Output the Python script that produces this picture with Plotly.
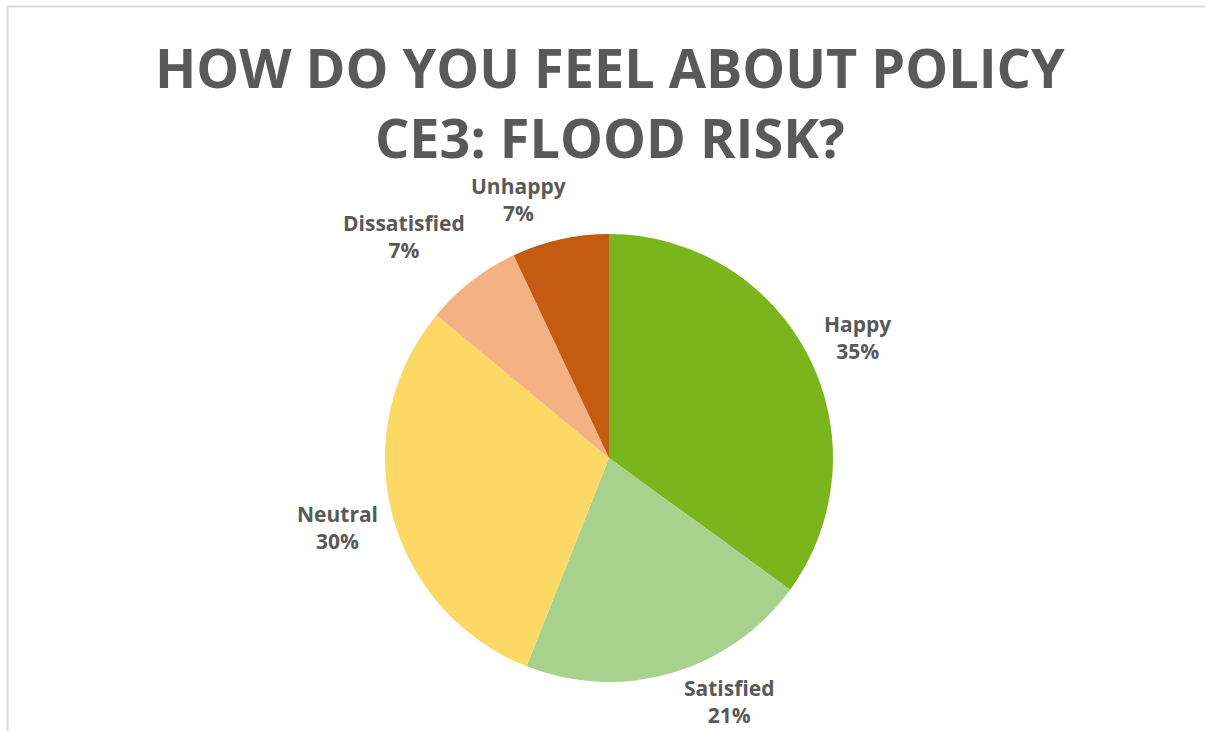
import math
import plotly.graph_objects as go

# Survey responses for policy CE3 (percent of respondents)
categories = ["Happy", "Satisfied", "Neutral", "Dissatisfied", "Unhappy"]
shares = [35, 21, 30, 7, 7]
colors = ["#7AB51D", "#A9D18E", "#FCD865", "#F4B183", "#C55A11"]

W, H = 1205, 731
cx, cy, R = 609, 458, 224          # pie centre and radius in pixels
TEXT = "#595959"

# label placement tweaks: (angle shift in degrees, distance from centre in px)
label_nudge = {
    "Happy": (1, 276),
    "Satisfied": (-10, 271),
    "Neutral": (0, 280),
    "Dissatisfied": (-5, 302),
    "Unhappy": (-6.6, 274),
}

fig = go.Figure(go.Pie(
    labels=categories,
    values=shares,
    marker=dict(colors=colors, line=dict(width=0)),
    sort=False,
    direction="clockwise",
    rotation=0,
    textinfo="none",
    hoverinfo="label+percent",
    showlegend=False,
    domain=dict(x=[(cx - R) / W, (cx + R) / W],
                y=[(H - cy - R) / H, (H - cy + R) / H]),
))

annotations = []
total = sum(shares)
start = 0.0
for name, v in zip(categories, shares):
    span = 360.0 * v / total
    mid = start + span / 2
    start += span
    dang, dist = label_nudge[name]
    a = math.radians(mid + dang)
    px = cx + dist * math.sin(a)
    py = cy - dist * math.cos(a)
    annotations.append(dict(
        x=px / W, y=1 - py / H, xref="paper", yref="paper",
        text=f"<b>{name}<br>{round(100 * v / total)}%</b>",
        showarrow=False, xanchor="center", yanchor="middle",
        font=dict(family="Open Sans", size=21, color=TEXT),
        align="center",
    ))

annotations.append(dict(
    x=610 / W, y=1 - 102 / H, xref="paper", yref="paper",
    text="<b>HOW DO YOU FEEL ABOUT POLICY<br>CE3: FLOOD RISK?</b>",
    showarrow=False, xanchor="center", yanchor="middle", align="center",
    font=dict(family="Open Sans", size=54, color=TEXT),
))

fig.update_layout(
    width=W, height=H,
    margin=dict(l=0, r=0, t=0, b=0),
    paper_bgcolor="white", plot_bgcolor="white",
    annotations=annotations,
    shapes=[
        dict(type="line", xref="paper", yref="paper",
             x0=7.5 / W, x1=7.5 / W, y0=0, y1=1 - 6 / H,
             line=dict(color="#D9D9D9", width=2)),
        dict(type="line", xref="paper", yref="paper",
             x0=7 / W, x1=1, y0=1 - 6.5 / H, y1=1 - 6.5 / H,
             line=dict(color="#D9D9D9", width=2)),
    ],
)

fig.write_html("out.html")
